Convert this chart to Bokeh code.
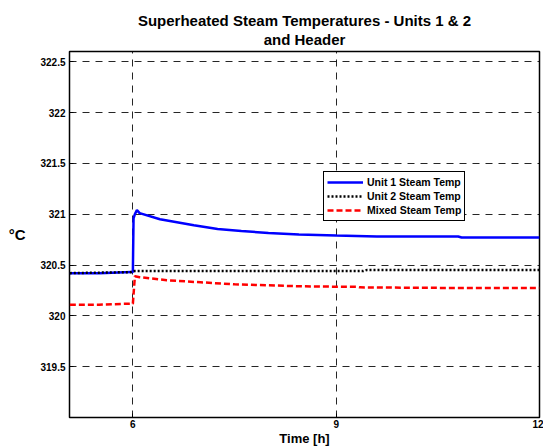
from bokeh.plotting import figure
from bokeh.models import FixedTicker, CustomJSTickFormatter, Legend, LegendItem, Range1d, Title
from bokeh.embed import file_html
from bokeh.resources import INLINE

# ---- data ----
t_unit1 = [5.07, 5.5, 5.98, 6.0, 6.01, 6.03, 6.06, 6.1, 6.4, 6.9, 7.25, 7.6, 8.0, 8.45, 9.0, 9.6, 10.8, 10.85, 12.0]
v_unit1 = [320.42, 320.42, 320.43, 320.43, 320.96, 321.0, 321.04, 321.01, 320.95, 320.89, 320.855, 320.835, 320.815, 320.80, 320.79, 320.78, 320.78, 320.77, 320.77]

t_unit2 = [5.07, 5.98, 6.02, 9.4, 9.45, 12.0]
v_unit2 = [320.42, 320.43, 320.44, 320.44, 320.45, 320.45]

t_mixed = [5.07, 5.5, 5.98, 6.0, 6.03, 6.1, 6.5, 7.0, 7.5, 8.0, 8.5, 9.3, 9.35, 10.5, 12.0]
v_mixed = [320.11, 320.11, 320.12, 320.12, 320.39, 320.38, 320.35, 320.33, 320.31, 320.30, 320.29, 320.285, 320.28, 320.275, 320.275]

x_ticks = [6, 9, 12]
y_ticks = [319.5, 320, 320.5, 321, 321.5, 322, 322.5]

title_lines = ["Superheated Steam Temperatures - Units 1 & 2", "and Header"]
x_label = "Time [h]"
y_label = "°C"
series_labels = ["Unit 1 Steam Temp", "Unit 2 Steam Temp", "Mixed Steam Temp"]

FONT = "Liberation Sans"

p = figure(width=543, height=448, output_backend="svg", toolbar_location=None,
           x_range=Range1d(5.065, 12.0), y_range=Range1d(319.0, 322.6),
           min_border_left=69, min_border_right=4, min_border_top=51, min_border_bottom=30)

p.title.visible = False
for txt, so, va in ((title_lines[1], 4, "top"), (title_lines[0], 0, "bottom")):
    t = Title(text=txt, align="center", text_font=FONT, text_font_size="15px",
              text_font_style="bold", text_color="black", standoff=so, offset=0,
              vertical_align=va)
    p.add_layout(t, "above")

p.outline_line_color = "black"
p.outline_line_width = 1.5
p.outline_line_alpha = 1.0

fmt = CustomJSTickFormatter(code="return String(Math.round(tick*10)/10);")
for ax, ticks in ((p.xaxis, x_ticks), (p.yaxis, y_ticks)):
    ax.ticker = FixedTicker(ticks=ticks)
    ax.formatter = fmt
    ax.major_label_text_font = FONT
    ax.major_label_text_font_size = "10px"
    ax.major_label_text_font_style = "bold"
    ax.major_label_text_color = "black"
    ax.major_tick_in = 4
    ax.major_tick_out = 0
    ax.minor_tick_line_color = None
    ax.axis_line_color = None
    ax.major_tick_line_color = "black"
    ax.axis_label_text_font = FONT
    ax.axis_label_text_font_style = "bold"
    ax.axis_label_text_color = "black"

p.xaxis.axis_label = x_label
p.xaxis.axis_label_text_font_size = "13px"
p.xaxis.axis_label_standoff = 0
p.xaxis.major_label_standoff = 2
p.yaxis.axis_label = y_label
p.yaxis.axis_label_text_font_size = "15px"
p.yaxis.axis_label_orientation = "horizontal"
p.yaxis.axis_label_standoff = 12
p.yaxis.major_label_standoff = 4

for g in (p.xgrid, p.ygrid):
    g.grid_line_color = "black"
    g.grid_line_alpha = 0.85
    g.grid_line_dash = "7 6"
    g.grid_line_width = 1

r1 = p.line(t_unit1, v_unit1, line_color="#0000ff", line_width=2.5)
r2 = p.line(t_unit2, v_unit2, line_color="black", line_width=2.5, line_dash="2 2")
r3 = p.line(t_mixed, v_mixed, line_color="#ff0000", line_width=2.5, line_dash="6 3")

legend = Legend(items=[LegendItem(label=series_labels[0], renderers=[r1]),
                       LegendItem(label=series_labels[1], renderers=[r2]),
                       LegendItem(label=series_labels[2], renderers=[r3])],
                location=(254, 196))
legend.label_text_font = FONT
legend.label_text_font_size = "10.5px"
legend.label_text_font_style = "bold"
legend.label_text_color = "black"
legend.border_line_color = "black"
legend.border_line_width = 1.2
legend.border_line_alpha = 1.0
legend.background_fill_alpha = 1.0
legend.padding = 3
legend.spacing = 0
legend.margin = 0
legend.label_height = 14
legend.glyph_height = 14
legend.glyph_width = 36
legend.label_standoff = 4
p.add_layout(legend, "center")

open("out.html", "w").write(file_html(p, INLINE))
